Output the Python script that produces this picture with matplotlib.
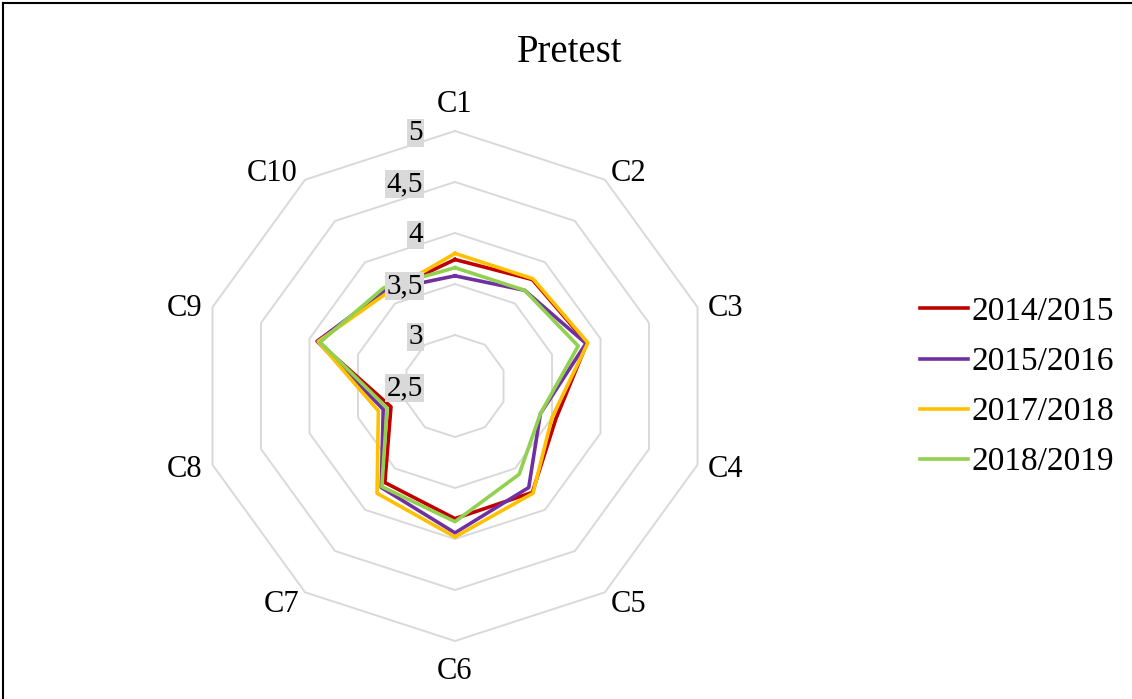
import numpy as np
import matplotlib
matplotlib.use("Agg")
import matplotlib.pyplot as plt
from matplotlib.lines import Line2D

categories = ["C1", "C2", "C3", "C4", "C5", "C6", "C7", "C8", "C9", "C10"]
series_names = ["2014/2015", "2015/2016", "2017/2018", "2018/2019"]
s2014 = [3.74, 3.79, 3.86, 3.54, 3.79, 3.80, 3.67, 3.16, 3.92, 3.64]
s2015 = [3.58, 3.66, 3.85, 3.38, 3.73, 3.94, 3.73, 3.24, 3.92, 3.66]
s2017 = [3.80, 3.80, 3.87, 3.50, 3.80, 3.98, 3.80, 3.29, 3.91, 3.63]
s2018 = [3.66, 3.66, 3.77, 3.38, 3.57, 3.83, 3.72, 3.20, 3.89, 3.69]
tick_values = [2.5, 3, 3.5, 4, 4.5, 5]
tick_labels = ["2,5", "3", "3,5", "4", "4,5", "5"]
colors = ["#C00000", "#7030A0", "#FFC000", "#92D050"]
title = "Pretest"

plt.rcParams['font.family'] = ['Liberation Serif', 'DejaVu Serif']

W, H = 1132, 699
PX = 0.72  # points per pixel at dpi 100
fig = plt.figure(figsize=(W / 100, H / 100), dpi=100)

cx, cy, R = 455, 386, 255
ax = fig.add_axes([(cx - R) / W, (H - cy - R) / H, 2 * R / W, 2 * R / H],
                  projection='polar')
ax.set_theta_zero_location('N')
ax.set_theta_direction(-1)
ax.set_ylim(2.5, 5)
ax.grid(False)
ax.spines['polar'].set_visible(False)
ax.set_xticks([])
ax.set_yticks([])
ax.patch.set_alpha(0)

n = len(categories)
theta = np.arange(n) * 2 * np.pi / n
theta_c = np.append(theta, theta[0])

# polygonal grid rings
for v in tick_values[1:]:
    ax.plot(theta_c, [v] * (n + 1), color="#D9D9D9", lw=1.4, zorder=1,
            clip_on=False)

series = [s2014, s2015, s2017, s2018]
for name, vals, col in zip(series_names, series, colors):
    vv = np.append(vals, vals[0])
    ax.plot(theta_c, vv, color=col, lw=2.6, solid_joinstyle='round',
            zorder=3, clip_on=False, label=name)

# tick labels with grey boxes
for v, lab in zip(tick_values, tick_labels):
    ax.annotate(lab, xy=(0, v), xytext=(-32 * PX, -2 * PX),
                textcoords='offset points',
                ha='right', va='center', fontsize=21, zorder=5,
                bbox=dict(boxstyle='square,pad=0.05', fc='#D9D9D9', ec='none'),
                annotation_clip=False)

# category labels (placement offsets in pixels from the outer vertex)
label_place = [((0, 12), 'center', 'bottom'),
               ((6, 6), 'left', 'center'),
               ((10, -1), 'left', 'center'),
               ((10, -5), 'left', 'center'),
               ((6, -12), 'left', 'center'),
               ((0, -16), 'center', 'top'),
               ((-6, -12), 'right', 'center'),
               ((-10, -5), 'right', 'center'),
               ((-10, -1), 'right', 'center'),
               ((-8, 6), 'right', 'center')]
for t, c, (off, ha, va) in zip(theta, categories, label_place):
    ax.annotate(c, xy=(t, 5), xytext=(off[0] * PX, off[1] * PX),
                textcoords='offset points', ha=ha, va=va, fontsize=22,
                annotation_clip=False)

fig.text(570 / W, 1 - 52 / H, title, ha='center', va='center', fontsize=28)

handles = [Line2D([0], [0], color=c, lw=2.6) for c in colors]
fig.legend(handles, series_names, loc='center left',
           bbox_to_anchor=(890 / W, 1 - 387 / H), frameon=False, fontsize=24,
           handlelength=1.45, handletextpad=0.1, labelspacing=0.59)

# partial frame (top and left edges)
fig.add_artist(Line2D([3 / W, 3 / W], [0, 1 - 3 / H], color='black', lw=1.5,
                      transform=fig.transFigure))
fig.add_artist(Line2D([3 / W, 1], [1 - 3 / H, 1 - 3 / H], color='black', lw=1.5,
                      transform=fig.transFigure))

fig.savefig("out.png", dpi=100)
